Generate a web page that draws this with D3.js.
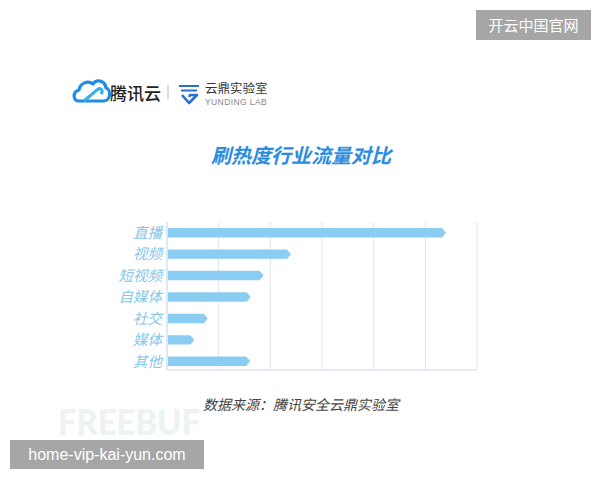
<!DOCTYPE html>
<html><head><meta charset="utf-8">
<script src="https://cdn.jsdelivr.net/npm/d3@7"></script>
<style>body{margin:0;background:#fff}svg{display:block}</style>
</head><body>
<script>
const categories = ["直播","视频","短视频","自媒体","社交","媒体","其他"];
const values = [5.40, 2.40, 1.87, 1.62, 0.79, 0.53, 1.61];
const gridTicks = [1,2,3,4,5,6];
const title = "刷热度行业流量对比";
const source = "数据来源：腾讯安全云鼎实验室";

const W=600,H=480;
const svg=d3.select("body").append("svg").attr("width",W).attr("height",H);
const cjk='"Noto Sans CJK SC","Noto Sans",sans-serif';

// watermark FREEBUF
svg.append("text").attr("x",58).attr("y",435).text("FREEBUF")
  .attr("font-family","Lato, 'DejaVu Sans', sans-serif").attr("font-weight","900")
  .attr("font-size",36).attr("fill","#edf4f0").attr("textLength",142).attr("lengthAdjust","spacingAndGlyphs");

// logos
const lg=svg.append("g");
lg.append("path").attr("d","M79,101 C73,101 72,92 79,90 C80,83 88,80 93,84 C96,79 105,80 106,88 C111,89 111,101 104,101 Z")
  .attr("fill","none").attr("stroke","#1f8ee0").attr("stroke-width",3.2).attr("stroke-linejoin","round");
lg.append("path").attr("d","M84,101 L97,90 C100,87 104,90 101,94").attr("fill","none").attr("stroke","#2fb0ea").attr("stroke-width",3);
lg.append("text").attr("x",110).attr("y",100).text("腾讯云").attr("font-family",cjk).attr("font-size",17).attr("fill","#222").attr("font-weight","500");
lg.append("line").attr("x1",168).attr("x2",168).attr("y1",85).attr("y2",99).attr("stroke","#bbb");
// yunding icon
lg.append("path").attr("d","M179,86 L199,86 M181,90.5 L197,90.5").attr("stroke","#2a6fd0").attr("stroke-width",2.2);
lg.append("path").attr("d","M182,95 L189,103 L197,95 L190,95 L189,97").attr("fill","none").attr("stroke","#2a6fd0").attr("stroke-width",2.6).attr("stroke-linejoin","round");
lg.append("text").attr("x",205).attr("y",93).text("云鼎实验室").attr("font-family",cjk).attr("font-size",12.5).attr("fill","#333");
lg.append("text").attr("x",205).attr("y",104.5).text("YUNDING LAB").attr("font-family","Arial, 'Liberation Sans', sans-serif").attr("font-size",8.5).attr("fill","#888").attr("letter-spacing",0.4);

// title
svg.append("text").attr("x",301).attr("y",163).attr("text-anchor","middle").text(title)
  .attr("font-family",cjk).attr("font-size",20).attr("font-weight","bold").attr("font-style","italic").attr("fill","#2b8de0");

const x=d3.scaleLinear().domain([0,6]).range([167,477]);
const y=d3.scaleBand().domain(categories).range([222,372]).paddingInner(0.56).paddingOuter(0.28);

// grid
svg.append("g").selectAll("line").data(gridTicks).join("line")
  .attr("x1",d=>x(d)).attr("x2",d=>x(d)).attr("y1",222).attr("y2",370)
  .attr("stroke","#dde5f3").attr("stroke-width",1);
svg.append("line").attr("x1",x(0)).attr("x2",x(6)).attr("y1",370).attr("y2",370).attr("stroke","#c9d8f0").attr("stroke-width",1.2);
svg.append("line").attr("x1",x(0)).attr("x2",x(0)).attr("y1",222).attr("y2",370).attr("stroke","#c9d8f0").attr("stroke-width",1.2);

// bars with arrow tips
const data=categories.map((c,i)=>({c,v:values[i]}));
svg.append("g").selectAll("path").data(data).join("path")
  .attr("d",d=>{
    const y0=y(d.c)+y.bandwidth()/2, h=y.bandwidth(), x0=x(0)+1, x1=x(d.v), t=4;
    return `M${x0},${y0-h/2} L${x1-t},${y0-h/2} L${x1},${y0} L${x1-t},${y0+h/2} L${x0},${y0+h/2} Z`;
  }).attr("fill","#8bcdf2");

// labels
svg.append("g").selectAll("text").data(categories).join("text")
  .attr("x",162).attr("y",d=>y(d)+y.bandwidth()/2).attr("dy","0.36em").attr("text-anchor","end")
  .text(d=>d).attr("font-family",cjk).attr("font-size",14.5).attr("font-style","italic").attr("fill","#86c7ea");

// source
svg.append("text").attr("x",301).attr("y",410).attr("text-anchor","middle").text(source)
  .attr("font-family",cjk).attr("font-size",14).attr("font-style","italic").attr("fill","#444");

// watermark boxes
svg.append("rect").attr("x",476).attr("y",10).attr("width",115).attr("height",30).attr("fill","#a6a6a6");
svg.append("text").attr("x",533.5).attr("y",31).attr("text-anchor","middle").text("开云中国官网")
  .attr("font-family",cjk).attr("font-size",15).attr("fill","#fff");
svg.append("rect").attr("x",10).attr("y",440).attr("width",194).attr("height",29).attr("fill","#a6a6a6");
svg.append("text").attr("x",107).attr("y",460).attr("text-anchor","middle").text("home-vip-kai-yun.com")
  .attr("font-family","Arial, 'Liberation Sans', sans-serif").attr("font-size",16).attr("fill","#fff");
</script>
</body></html>
